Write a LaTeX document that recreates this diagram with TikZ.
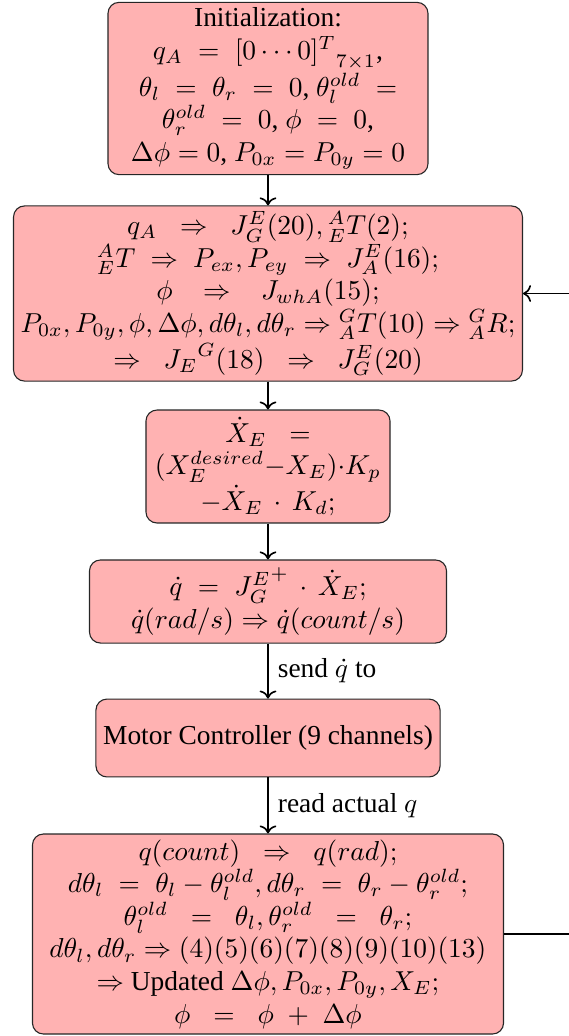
\documentclass[tikz,border=0pt]{standalone}
\usepackage{fontspec}
\setmainfont{Liberation Serif}
\usetikzlibrary{arrows.meta}
\begin{document}
\begin{tikzpicture}[x=0.3647pt,y=-0.3647pt,
  blk/.style={draw=black!85, fill=red!30, rounded corners=4pt, align=center,
    inner sep=2pt, font=\fontsize{10}{11.9}\selectfont},
  flow/.style={draw, ->, >=To, semithick},
  lbl/.style={right, inner sep=3.3pt, font=\fontsize{10}{12}\selectfont}]
\useasboundingbox (0,0) rectangle (568,1036);

\node[blk, minimum width=116.7pt, minimum height=62.4pt] (init) at (268,88.5)
 {Initialization:\\
  $q_A\;=\;{[0\cdots0]^T}_{7\times1}$,\\
  $\theta_l\;=\;\theta_r\;=\;0$, $\theta_l^{old}\;=$\\
  $\theta_r^{old}\;=\;0$, $\phi\;=\;0$,\\
  $\Delta\phi = 0$, $P_{0x} = P_{0y} = 0$};

\node[blk, minimum width=185.6pt, minimum height=63.8pt] (jac) at (268,293.5)
 {$q_A\;\;\Rightarrow\;\;J_G^E(20),{}^A_ET(2);$\\
  ${}^A_ET\;\Rightarrow\;P_{ex},P_{ey}\;\Rightarrow\;J_A^E(16);$\\
  $\phi\;\;\;\Rightarrow\;\;\;J_{whA}(15);$\\
  $P_{0x},P_{0y},\phi,\Delta\phi,d\theta_l,d\theta_r\Rightarrow{}^G_AT(10)\Rightarrow{}^G_AR;$\\
  $\Rightarrow\;\;{J_E}^G(18)\;\;\Rightarrow\;\;J_G^E(20)$};

\node[blk, minimum width=89pt, minimum height=41.2pt] (vel) at (268,466.5)
 {$\dot X_E\;\;=$\\
  $(X_E^{desired}{-}X_E){\cdot}K_p$\\
  ${-}\dot X_E\,\cdot\,K_d;$};

\node[blk, minimum width=130.2pt, minimum height=30.3pt] (qdot) at (268,601.5)
 {$\dot q\;=\;{J_G^E}^+\,\cdot\,\dot X_E;$\\
  $\dot q(rad/s)\Rightarrow\dot q(count/s)$};

\node[blk, minimum width=125.5pt, minimum height=28.4pt] (motor) at (268,738)
 {Motor Controller (9 channels)};

\node[blk, minimum width=171.8pt, minimum height=72.9pt] (upd) at (268,934)
 {$q(count)\;\;\Rightarrow\;\;q(rad);$\\
  $d\theta_l\;=\;\theta_l-\theta_l^{old},d\theta_r\;=\;\theta_r-\theta_r^{old};$\\
  $\theta_l^{old}\;\;=\;\;\theta_l,\theta_r^{old}\;\;=\;\;\theta_r;$\\
  $d\theta_l,d\theta_r\Rightarrow(4)(5)(6)(7)(8)(9)(10)(13)$\\
  $\Rightarrow$ Updated $\Delta\phi,P_{0x},P_{0y},X_E;$\\
  $\phi\;\;=\;\;\phi\;+\;\Delta\phi$};

\draw[flow] (init) -- (jac);
\draw[flow] (jac) -- (vel);
\draw[flow] (vel) -- (qdot);
\draw[flow] (qdot) -- node[lbl] {send $\dot q$ to} (motor);
\draw[flow] (motor) -- node[lbl] {read actual $q$} (upd);
\coordinate (ret) at (600,934);
\draw[flow] (upd.east) -- (ret) |- (jac.east);
\end{tikzpicture}
\end{document}
